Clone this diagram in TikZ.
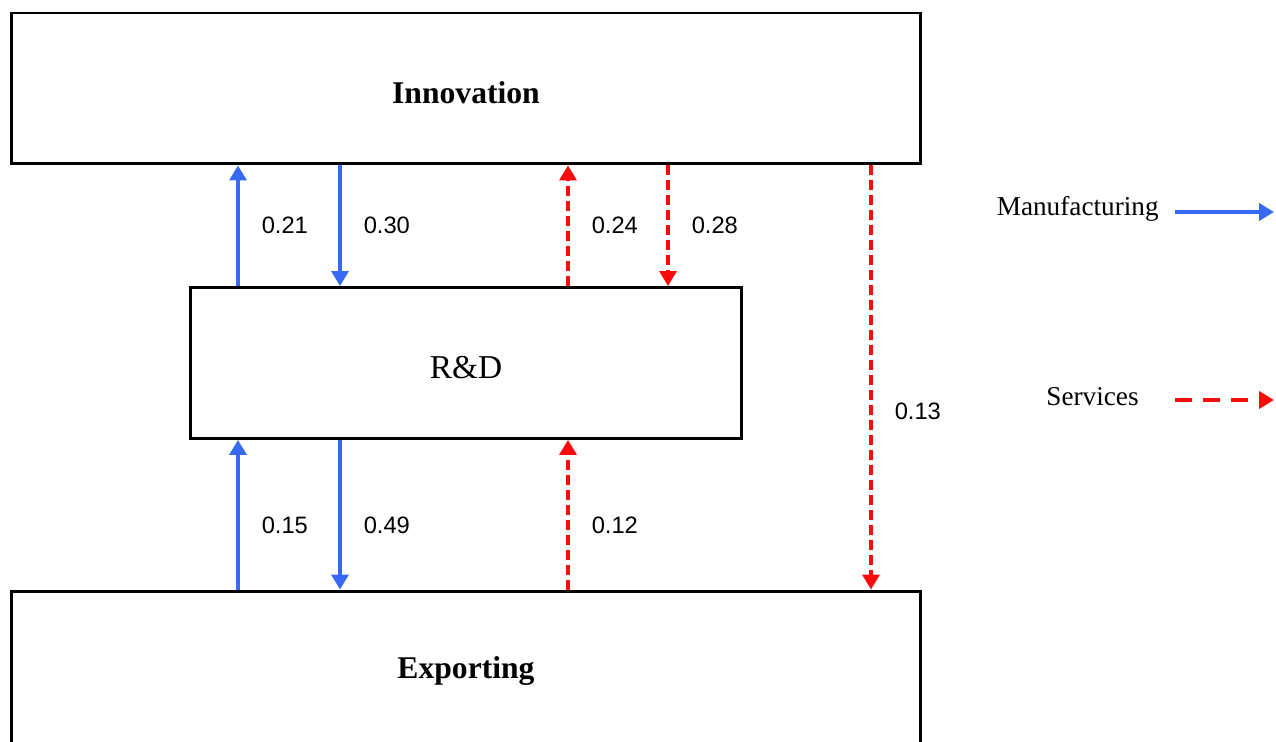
\documentclass[tikz,border=0pt]{standalone}
\usepackage{fontspec}
\setmainfont{Liberation Serif}
\newfontfamily\numfont{Liberation Sans}
\usetikzlibrary{arrows.meta}
\definecolor{mfgblue}{RGB}{55,105,245}
\definecolor{srvred}{RGB}{250,10,10}

\begin{document}
\begin{tikzpicture}[x=0.02cm,y=-0.02cm,
		box/.style={draw,line width=1.7pt,minimum width=18.2cm,minimum height=3.02cm,font=\fontsize{18}{20}\selectfont\bfseries},
		mfg/.style={mfgblue,line width=2pt,-{Triangle[width=0.34cm,length=0.3cm]}},
		srv/.style={srvred,line width=2pt,dash pattern=on 0.2cm off 0.1cm,-{Triangle[width=0.34cm,length=0.3cm]}},
		lbl/.style={font=\numfont\fontsize{13.5}{15}\selectfont,text=black,right,inner sep=0pt,xshift=0.44cm},
		leg/.style={font=\fontsize{15.5}{17}\selectfont,anchor=east,inner sep=0pt}]
	\useasboundingbox (0,0) rectangle (1276,742);
	\clip (0,0) rectangle (1276,742);
	\node[box,text height=0.62cm] (inn) at (466,88.5) {Innovation};
	\node[box,minimum width=11.04cm,text height=0.62cm,font=\fontsize{19}{21}\selectfont] (rd) at (466,363) {R\&D};
	\node[box,minimum height=3.2cm] (exp) at (466,671) {Exporting};
	\foreach \n/\x in {a/238,b/340,c/568,d/668,e/871}
		\coordinate (\n) at (\x,0);
	\draw[mfg] (rd.north -| a) -- node[lbl]{0.21} (inn.south -| a);
	\draw[mfg] (inn.south -| b) -- node[lbl]{0.30} (rd.north -| b);
	\draw[srv] (rd.north -| c) -- node[lbl]{0.24} (inn.south -| c);
	\draw[srv] (inn.south -| d) -- node[lbl]{0.28} (rd.north -| d);
	\draw[srv] (inn.south -| e) -- node[lbl,pos=0.58]{0.13} (exp.north -| e);
	\draw[mfg] (exp.north -| a) -- node[lbl,pos=0.43]{0.15} (rd.south -| a);
	\draw[mfg] (rd.south -| b) -- node[lbl,pos=0.57]{0.49} (exp.north -| b);
	\draw[srv] (exp.north -| c) -- node[lbl,pos=0.43]{0.12} (rd.south -| c);
	\node[leg] (lman) at (1159,209) {Manufacturing};
	\node[leg] (lsrv) at (1139,397) {Services};
	\coordinate (m0) at (1175,212);
	\coordinate (m1) at (1274,212);
	\coordinate (s0) at (1175,400);
	\coordinate (s1) at (1274,400);
	\draw[mfg,line width=2.2pt] (m0) -- (m1);
	\draw[srv,line width=2.2pt,dash pattern=on 0.34cm off 0.22cm] (s0) -- (s1);
\end{tikzpicture}
\end{document}
